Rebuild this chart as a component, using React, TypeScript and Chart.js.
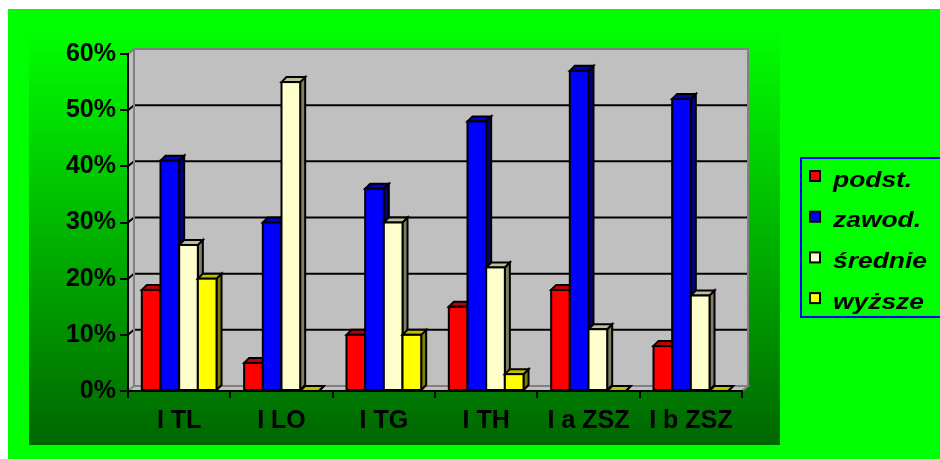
import React, { useEffect, useRef } from "react";
import { Chart, registerables } from "chart.js";

Chart.register(...registerables);

const categories = ["I TL", "I LO", "I TG", "I TH", "I a ZSZ", "I b ZSZ"];
const seriesNames = ["podst.", "zawod.", "średnie", "wyższe"];
const podst = [18, 5, 10, 15, 18, 8];
const zawod = [41, 30, 36, 48, 57, 52];
const srednie = [26, 55, 30, 22, 11, 17];
const wyzsze = [20, 0, 10, 3, 0, 0];
const seriesColors = ["#FF0000", "#0000FF", "#FFFFCC", "#FFFF00"];
const yTicks = [0, 10, 20, 30, 40, 50, 60];

const FONT = "'Liberation Sans', Arial, sans-serif";

function shade(hex: string, f: number) {
  const n = parseInt(hex.slice(1), 16);
  const r = Math.round(((n >> 16) & 255) * f);
  const g = Math.round(((n >> 8) & 255) * f);
  const b = Math.round((n & 255) * f);
  return `rgb(${r},${g},${b})`;
}

const EXTRA = 40;
const W = 932 + EXTRA;
const H = 450 + EXTRA;
const WDX = 6;
const WDY = -5;
const BDX = 5;
const BDY = -5;

const scenePlugin = {
  id: "scene3d",
  beforeDraw(chart: any) {
    const ctx = chart.ctx;
    const { left, right, top, bottom } = chart.chartArea;
    ctx.save();
    ctx.fillStyle = "#00FF00";
    ctx.fillRect(0, 0, chart.width, chart.height);
    const g = ctx.createLinearGradient(0, 21, 0, 436);
    g.addColorStop(0, "#00FF00");
    g.addColorStop(1, "#006600");
    ctx.fillStyle = g;
    ctx.fillRect(21, 21, 751, 415);

    ctx.fillStyle = "#C0C0C0";
    ctx.fillRect(left + WDX, top + WDY, right - left, bottom - top);
    ctx.beginPath();
    ctx.moveTo(left, top);
    ctx.lineTo(left + WDX, top + WDY);
    ctx.lineTo(left + WDX, bottom + WDY);
    ctx.lineTo(left, bottom);
    ctx.closePath();
    ctx.fill();
    ctx.beginPath();
    ctx.moveTo(left, bottom);
    ctx.lineTo(left + WDX, bottom + WDY);
    ctx.lineTo(right + WDX, bottom + WDY);
    ctx.lineTo(right, bottom);
    ctx.closePath();
    ctx.fill();
    ctx.strokeStyle = "#808080";
    ctx.lineWidth = 2;
    ctx.stroke();

    const ys = chart.scales.y;
    ctx.strokeStyle = "#000";
    ctx.lineWidth = 2;
    ys.ticks.forEach((t: any) => {
      if (t.value <= 0 || t.value >= 60) return;
      const py = ys.getPixelForValue(t.value);
      ctx.beginPath();
      ctx.moveTo(left, py);
      ctx.lineTo(left + WDX, py + WDY);
      ctx.lineTo(right + WDX, py + WDY);
      ctx.stroke();
    });

    ctx.strokeStyle = "#808080";
    ctx.lineWidth = 2;
    ctx.beginPath();
    ctx.moveTo(left, top);
    ctx.lineTo(left + WDX, top + WDY);
    ctx.lineTo(right + WDX, top + WDY);
    ctx.lineTo(right + WDX, bottom + WDY);
    ctx.stroke();
    ctx.beginPath();
    ctx.moveTo(left + WDX, top + WDY);
    ctx.lineTo(left + WDX, bottom + WDY);
    ctx.stroke();
    ctx.restore();
  },
  beforeDatasetsDraw(chart: any) {
    const ctx = chart.ctx;
    ctx.save();
    ctx.lineWidth = 2;
    ctx.strokeStyle = "#000";
    ctx.lineJoin = "miter";
    const n = chart.data.labels.length;
    for (let i = 0; i < n; i++) {
      chart.data.datasets.forEach((ds: any, di: number) => {
        const meta = chart.getDatasetMeta(di);
        const el = meta.data[i];
        if (!el) return;
        const { x, y, base, width } = el.getProps(["x", "y", "base", "width"], true);
        const x0 = x - width / 2;
        const x1 = x + width / 2;
        const col = ds.backgroundColor;
        ctx.beginPath();
        ctx.moveTo(x1, y);
        ctx.lineTo(x1 + BDX, y + BDY);
        ctx.lineTo(x1 + BDX, base + BDY);
        ctx.lineTo(x1, base);
        ctx.closePath();
        ctx.fillStyle = shade(col, 0.5);
        ctx.fill();
        ctx.stroke();
        ctx.beginPath();
        ctx.moveTo(x0, y);
        ctx.lineTo(x0 + BDX, y + BDY);
        ctx.lineTo(x1 + BDX, y + BDY);
        ctx.lineTo(x1, y);
        ctx.closePath();
        ctx.fillStyle = shade(col, 0.75);
        ctx.fill();
        ctx.stroke();
        ctx.fillStyle = col;
        ctx.fillRect(x0, y, width, base - y);
        ctx.strokeRect(x0, y, width, base - y);
      });
    }
    const { left, right, bottom, top } = chart.chartArea;
    ctx.beginPath();
    ctx.moveTo(left, top);
    ctx.lineTo(left, bottom);
    ctx.lineTo(right, bottom);
    ctx.stroke();
    ctx.restore();
    return false;
  },
  afterDraw(chart: any) {
    const ctx = chart.ctx;
    ctx.save();
    ctx.strokeStyle = "#0000FF";
    ctx.lineWidth = 2;
    ctx.strokeRect(793, 149, 160, 159);
    ctx.font = `italic bold 22px ${FONT}`;
    ctx.textBaseline = "alphabetic";
    ctx.textAlign = "left";
    chart.data.datasets.forEach((ds: any, i: number) => {
      const cy = 167 + i * 40.7;
      ctx.fillStyle = ds.backgroundColor;
      ctx.fillRect(802, cy - 5, 10, 10);
      ctx.strokeStyle = "#000";
      ctx.lineWidth = 2;
      ctx.strokeRect(802, cy - 5, 10, 10);
      ctx.fillStyle = "#000";
      ctx.save();
      ctx.translate(825, cy + 10.5);
      ctx.scale(1.2, 1);
      ctx.fillText(ds.label, 0, 0);
      ctx.restore();
    });
    ctx.restore();
  },
};

export default function App() {
  const ref = useRef<HTMLCanvasElement | null>(null);
  useEffect(() => {
    document.documentElement.style.overflow = "hidden";
    document.body.style.background = "#00FF00";
    const values = [podst, zawod, srednie, wyzsze];
    const chart = new Chart(ref.current!, {
      type: "bar",
      data: {
        labels: categories,
        datasets: values.map((v, i) => ({
          label: seriesNames[i],
          data: v,
          backgroundColor: seriesColors[i],
          borderColor: "#000",
          borderWidth: 2,
          categoryPercentage: 0.73,
          barPercentage: 1,
        })),
      },
      options: {
        responsive: true,
        maintainAspectRatio: false,
        animation: false,
        devicePixelRatio: 1,
        layout: { padding: { left: 20, top: 45, right: 198 + EXTRA, bottom: 18 + EXTRA } },
        plugins: { legend: { display: false }, tooltip: { enabled: false }, title: { display: false } },
        scales: {
          x: {
            grid: { drawOnChartArea: false, drawTicks: true, tickLength: 7, color: "#000", lineWidth: 2, offset: true },
            border: { display: true, color: "#000", width: 2 },
            ticks: {
              color: "#000",
              font: { family: FONT, size: 25, weight: "bold" },
              padding: 8,
              maxRotation: 0,
              autoSkip: false,
            },
            afterFit: (s: any) => {
              s.height = 50;
            },
          },
          y: {
            min: 0,
            max: 60,
            grid: { drawOnChartArea: false, drawTicks: true, tickLength: 8, color: "#000", lineWidth: 2 },
            border: { display: true, color: "#000", width: 2 },
            ticks: {
              stepSize: 10,
              color: "#000",
              font: { family: FONT, size: 25, weight: "bold" },
              padding: 4,
              callback: (v: any) => (yTicks.includes(Number(v)) ? `${v}%` : ""),
            },
            afterFit: (s: any) => {
              s.width = 100;
            },
          },
        },
      },
      plugins: [scenePlugin],
    } as any);
    return () => chart.destroy();
  }, []);
  return (
    <>
      <div style={{ position: "fixed", left: 0, top: 0, width: "100%", height: 9, background: "#FFFFFF" }} />
      <div style={{ position: "fixed", left: 0, top: 0, width: 8, height: "100%", background: "#FFFFFF" }} />
      <div style={{ position: "fixed", left: 8, top: 9, width: W, height: H, background: "#00FF00" }}>
        <canvas ref={ref} style={{ display: "block" }} />
      </div>
    </>
  );
}
